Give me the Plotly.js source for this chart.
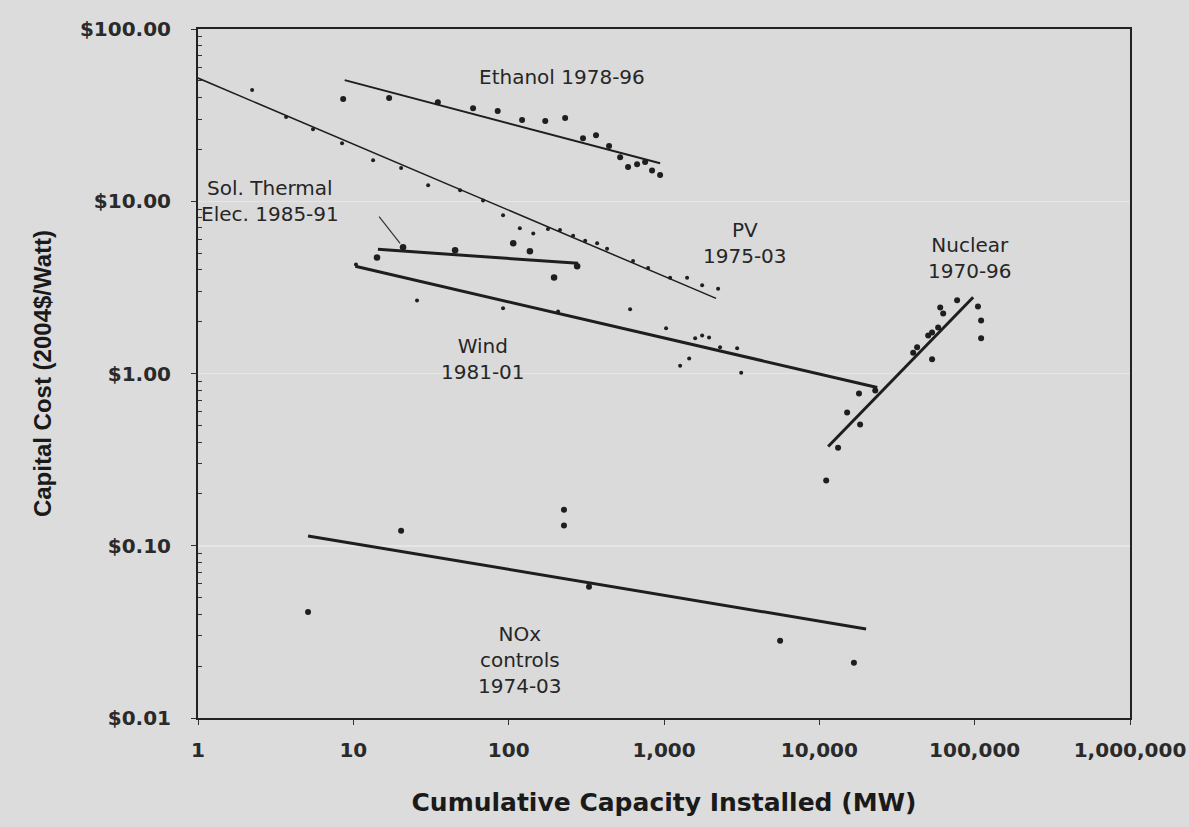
<!DOCTYPE html>
<html>
<head>
<meta charset="utf-8">
<script src="https://cdn.plot.ly/plotly-3.0.1.min.js"></script>
<style>html,body{margin:0;padding:0;background:#dcdcdc;}#chart{width:1189px;height:827px;}</style>
</head>
<body>
<div id="chart"></div>
<script>
// ---- Data (cumulative MW, capital cost 2004$/W) ----
const pvX = [2.23, 3.69, 5.5, 8.46, 13.4, 20.3, 30.3, 48.7, 68.4, 92, 118, 144, 179, 214, 260, 311, 371, 430, 632, 790, 1095, 1408, 1760, 2230];
const pvY = [44.2, 30.8, 26.2, 21.7, 17.3, 15.6, 12.4, 11.6, 10.1, 8.3, 6.97, 6.5, 6.9, 6.8, 6.3, 5.9, 5.7, 5.3, 4.5, 4.1, 3.6, 3.6, 3.25, 3.1];
const pvFitX = [1, 2164];
const pvFitY = [51.9, 2.73];

const ethX = [8.6, 17, 35, 59, 85, 122, 172, 231, 301, 365, 443, 522, 587, 671, 756, 838, 944];
const ethY = [39.2, 39.7, 37.6, 34.7, 33.4, 29.6, 29.2, 30.4, 23.2, 24.2, 20.9, 18.0, 15.8, 16.4, 16.9, 15.1, 14.2];
const ethFitX = [8.8, 944];
const ethFitY = [50.5, 16.6];

const solX = [14.2, 20.9, 45.2, 107, 137, 196, 276];
const solY = [4.72, 5.41, 5.19, 5.7, 5.12, 3.61, 4.19];
const solFitX = [14.4, 280];
const solFitY = [5.26, 4.36];

const windX = [10.4, 25.7, 92, 208, 605, 1031, 1270, 1452, 1587, 1760, 1950, 2296, 2956, 3140];
const windY = [4.3, 2.65, 2.39, 2.29, 2.36, 1.83, 1.11, 1.22, 1.60, 1.66, 1.62, 1.42, 1.40, 1.01];
const windFitX = [10.3, 23600];
const windFitY = [4.19, 0.83];

const nucX = [11070, 13200, 15100, 18000, 18300, 22900, 40200, 42600, 50200, 53200, 53200, 58200, 60000, 62700, 77100, 105000, 110000, 110000];
const nucY = [0.239, 0.371, 0.593, 0.765, 0.505, 0.797, 1.32, 1.42, 1.66, 1.73, 1.21, 1.85, 2.42, 2.23, 2.66, 2.45, 2.03, 1.60];
const nucFitX = [11400, 97800];
const nucFitY = [0.377, 2.77];

const noxX = [5.11, 20.3, 227, 227, 329, 5590, 16700];
const noxY = [0.0413, 0.122, 0.162, 0.131, 0.0578, 0.0281, 0.0209];
const noxFitX = [5.11, 20000];
const noxFitY = [0.114, 0.0329];

const xTickVals = [1, 10, 100, 1000, 10000, 100000, 1000000];
const xTickText = ["1", "10", "100", "1,000", "10,000", "100,000", "1,000,000"];
const yTickVals = [0.01, 0.1, 1, 10, 100];
const yTickText = ["$0.01", "$0.10", "$1.00", "$10.00", "$100.00"];

const seriesLabels = [
  {text: "Ethanol 1978-96", x: 221, y: 52.6},
  {text: "Sol. Thermal<br>Elec. 1985-91", x: 2.91, y: 10.1},
  {text: "PV<br>1975-03", x: 3327, y: 5.7},
  {text: "Nuclear<br>1970-96", x: 93500, y: 4.67},
  {text: "Wind<br>1981-01", x: 68.4, y: 1.22},
  {text: "NOx<br>controls<br>1974-03", x: 118, y: 0.0217}
];

// minor tick positions (2..9 within each decade of the cost axis)
const yMinor = [];
for (let d = -2; d < 2; d++) for (let m = 2; m <= 9; m++) yMinor.push(m * Math.pow(10, d));

// ---- Styles ----
const ink = "#1e1e1e";
function dots(x, y, size, name) {
  return {type: "scatter", mode: "markers", x: x, y: y, name: name,
          marker: {color: ink, size: size}, hoverinfo: "x+y"};
}
function fit(x, y, w, name) {
  return {type: "scatter", mode: "lines", x: x, y: y, name: name,
          line: {color: ink, width: w}, hoverinfo: "skip"};
}

const traces = [
  fit(pvFitX, pvFitY, 1.5, "PV fit"), dots(pvX, pvY, 4, "PV"),
  fit(ethFitX, ethFitY, 2, "Ethanol fit"), dots(ethX, ethY, 6, "Ethanol"),
  fit(solFitX, solFitY, 3, "Solar thermal fit"), dots(solX, solY, 6.5, "Solar thermal"),
  fit(windFitX, windFitY, 3, "Wind fit"), dots(windX, windY, 4, "Wind"),
  fit(nucFitX, nucFitY, 3, "Nuclear fit"), dots(nucX, nucY, 6, "Nuclear"),
  fit(noxFitX, noxFitY, 3, "NOx fit"), dots(noxX, noxY, 6, "NOx")
];

const labelFont = {family: "DejaVu Sans, Liberation Sans, sans-serif", size: 20, color: "#262626"};
const annotations = seriesLabels.map(l => ({
  x: Math.log10(l.x), y: Math.log10(l.y), xref: "x", yref: "y",
  text: l.text, showarrow: false, font: labelFont, align: "center"
}));
// pointer line from the solar thermal label to its fit line
annotations.push({
  x: Math.log10(20), y: Math.log10(5.7), xref: "x", yref: "y",
  ax: Math.log10(14.4), ay: Math.log10(8.3), axref: "x", ayref: "y",
  text: "", showarrow: true, arrowhead: 0, arrowwidth: 1.2, arrowcolor: "#333"
});

const tickFont = {family: "DejaVu Sans, Liberation Sans, sans-serif", size: 20, color: "#2a2a2a", weight: 600};

const layout = {
  width: 1189, height: 827,
  paper_bgcolor: "#dcdcdc", plot_bgcolor: "#dadada",
  margin: {l: 198, r: 59, t: 29, b: 109},
  showlegend: false,
  font: {family: "DejaVu Sans, Liberation Sans, sans-serif", color: "#222"},
  xaxis: {
    type: "log", range: [0, 6],
    tickvals: xTickVals, ticktext: xTickText,
    ticks: "outside", ticklen: 5, tickcolor: "#333",
    ticklabelstandoff: 8,
    tickfont: tickFont,
    showgrid: false, zeroline: false,
    showline: true, linecolor: "#222", linewidth: 2, mirror: true,
    title: {text: "<b>Cumulative Capacity Installed (MW)</b>",
            font: {family: "DejaVu Sans, Liberation Sans, sans-serif", size: 25, color: "#1a1a1a"},
            standoff: 32}
  },
  yaxis: {
    type: "log", range: [-2, 2],
    tickvals: yTickVals, ticktext: yTickText,
    ticks: "outside", ticklen: 5, tickcolor: "#333",
    ticklabelstandoff: 16,
    tickfont: tickFont,
    showgrid: true, gridcolor: "#e6e6e6", gridwidth: 1.5,
    zeroline: false,
    showline: true, linecolor: "#222", linewidth: 2, mirror: true,
    minor: {tickmode: "array", tickvals: yMinor, ticks: "inside", ticklen: 4, tickcolor: "#333", showgrid: false},
    title: {text: "<b>Capital Cost (2004$/Watt)</b>",
            font: {family: "Liberation Sans, Arial, sans-serif", size: 24, color: "#1a1a1a"},
            standoff: 22}
  },
  annotations: annotations
};

Plotly.newPlot("chart", traces, layout, {displayModeBar: false, staticPlot: true});
</script>
</body>
</html>
